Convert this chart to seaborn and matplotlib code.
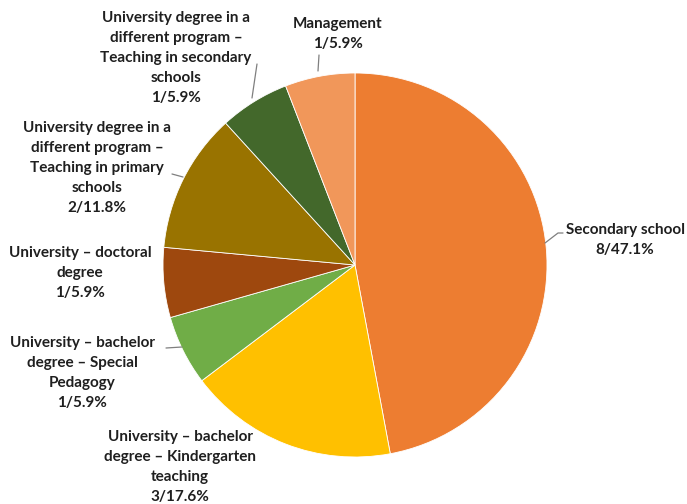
import matplotlib
matplotlib.use("Agg")
import matplotlib.pyplot as plt
import seaborn as sns

# ---- data ----
categories = [
    "Secondary school",
    "University \u2013 bachelor\ndegree \u2013 Kindergarten\nteaching",
    "University \u2013 bachelor\ndegree \u2013 Special\nPedagogy",
    "University \u2013 doctoral\ndegree",
    "University degree in a\ndifferent program \u2013\nTeaching in primary\nschools",
    "University degree in a\ndifferent program \u2013\nTeaching in secondary\nschools",
    "Management",
]
counts = [8, 3, 1, 1, 2, 1, 1]
colors = ["#ED7D31", "#FFC000", "#70AD47", "#9E480E", "#997300", "#43682B", "#F1975A"]

# ---- layout (pixel coords, y from top) ----
W, H = 687, 504
label_pos = [(625, 240), (180, 467), (82, 373), (80, 273), (97, 168), (176, 58), (338, 34)]
leaders = [
    [(545, 243), (558, 233), (563, 233)],
    None,
    [(182, 347), (166, 348)],
    None,
    [(183, 177), (172, 174)],
    [(252, 98), (257, 64)],
    [(318, 71), (319, 55)],
]

sns.set_theme(style="white")
plt.rcParams["font.family"] = ["Lato", "DejaVu Sans"]

fig = plt.figure(figsize=(W / 100, H / 100), dpi=100)
ax = fig.add_axes([0, 0, 1, 1])

cx, cy, r = 355, 265, 192
ax.pie(counts, colors=colors, startangle=90, counterclock=False,
       center=(cx, H - cy), radius=r, frame=True,
       wedgeprops=dict(edgecolor="white", linewidth=0.6))
ax.set_xlim(0, W)
ax.set_ylim(0, H)
ax.axis("off")

total = sum(counts)
for cat, n, (lx, ly), ld in zip(categories, counts, label_pos, leaders):
    txt = f"{cat}\n{n}/{n / total * 100:.1f}%"
    ax.text(lx, H - ly, txt, ha="center", va="center", fontsize=11,
            fontweight="bold", color="#1f1f1f", linespacing=1.55)
    if ld:
        xs = [p[0] for p in ld]
        ys = [H - p[1] for p in ld]
        ax.plot(xs, ys, color="#7f7f7f", linewidth=0.9)

fig.savefig("out.png", dpi=100)
